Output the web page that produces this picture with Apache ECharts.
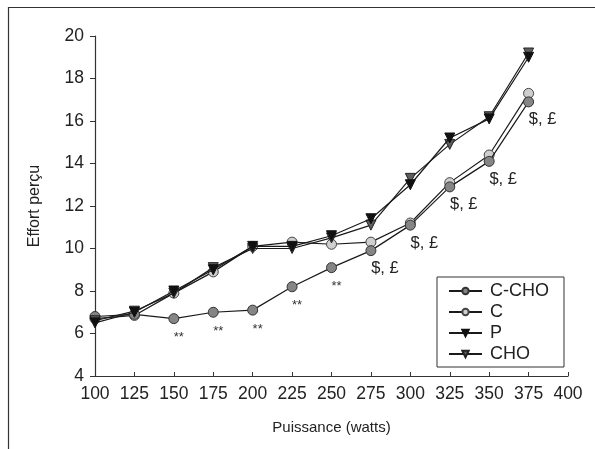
<!DOCTYPE html>
<html>
<head>
<meta charset="utf-8">
<script src="https://cdn.jsdelivr.net/npm/echarts@6/dist/echarts.min.js"></script>
<style>html,body{margin:0;padding:0;background:#fff;}#c{width:595px;height:449px;}</style>
</head>
<body>
<div id="c"></div>
<script>
const puissance = [100,125,150,175,200,225,250,275,300,325,350,375];
const cCho = [6.8,6.9,6.7,7.0,7.1,8.2,9.1,9.9,11.1,12.9,14.1,16.9];
const cOnly = [6.7,6.85,7.9,8.9,10.1,10.3,10.2,10.3,11.2,13.1,14.4,17.3];
const pSeries = [6.5,7.0,8.0,9.0,10.1,10.1,10.6,11.4,13.0,15.2,16.1,19.0];
const choSeries = [6.6,7.05,7.9,9.1,10.0,10.0,10.5,11.1,13.3,14.9,16.2,19.2];
const annotations = ['', '', '**','**','**','**','**','$, £','$, £','$, £','$, £','$, £'];
const xTicks = {min:100, max:400, step:25};
const yTicks = {min:4, max:20, step:2};

const font = 'Liberation Sans, Arial, sans-serif';
function pairs(arr){ return puissance.map((x,i)=>[x, arr[i]]); }

const cChoData = puissance.map((x,i)=>{
  const a = annotations[i];
  const item = {value:[x, cCho[i]]};
  if (a === '**') {
    item.label = {show:true, formatter:a, position:'inside', offset:[5,19], fontSize:13, color:'#333', fontFamily:font};
  } else if (a) {
    item.label = {show:true, formatter:a, position:'inside', offset:[14,18], fontSize:16.5, color:'#222', fontFamily:font};
  }
  return item;
});

const chart = echarts.init(document.getElementById('c'), null, {renderer:'canvas'});
const lineStyle = {color:'#1a1a1a', width:1.2};
chart.setOption({
  animation:false,
  backgroundColor:'#fff',
  graphic:[{type:'rect', shape:{x:8.5,y:7.5,width:700,height:600}, style:{fill:'none', stroke:'#333', lineWidth:1.2}, silent:true}],
  grid:{left:95, right:27, top:36, bottom:73},
  legend:{
    orient:'vertical', left:437, top:277,
    itemWidth:33, itemHeight:8, itemGap:3,
    padding:[5,15,4,11],
    borderColor:'#333', borderWidth:1,
    textStyle:{fontSize:18, color:'#222', fontFamily:font, padding:[0,0,0,3]},
    data:['C-CHO','C','P','CHO']
  },
  xAxis:{
    type:'value', min:xTicks.min, max:xTicks.max, interval:xTicks.step,
    name:'Puissance (watts)', nameLocation:'middle', nameGap:44,
    nameTextStyle:{fontSize:15, color:'#222', fontFamily:font},
    axisLine:{lineStyle:{color:'#333', width:1.2}},
    axisTick:{inside:true, length:4, lineStyle:{color:'#333'}},
    axisLabel:{fontSize:17.5, color:'#222', fontFamily:font, margin:9},
    splitLine:{show:false}
  },
  yAxis:{
    type:'value', min:yTicks.min, max:yTicks.max, interval:yTicks.step,
    name:'Effort perçu', nameLocation:'middle', nameGap:52,
    nameTextStyle:{fontSize:16, color:'#222', fontFamily:font},
    axisLine:{show:true, lineStyle:{color:'#333', width:1.2}},
    axisTick:{show:true, length:5, lineStyle:{color:'#333'}},
    axisLabel:{fontSize:17.5, color:'#222', fontFamily:font, margin:11},
    splitLine:{show:false}
  },
  series:[
    {name:'C-CHO', type:'line', data:cChoData, symbol:'circle', symbolSize:10,
     itemStyle:{color:'#858585', borderColor:'#333', borderWidth:1}, lineStyle:lineStyle, z:4},
    {name:'C', type:'line', data:pairs(cOnly), symbol:'circle', symbolSize:10,
     itemStyle:{color:'#cfcfcf', borderColor:'#444', borderWidth:1}, lineStyle:lineStyle, z:3},
    {name:'P', type:'line', data:pairs(pSeries), symbol:'triangle', symbolRotate:180, symbolSize:10,
     itemStyle:{color:'#111', borderColor:'#111', borderWidth:1}, lineStyle:lineStyle, z:5},
    {name:'CHO', type:'line', data:pairs(choSeries), symbol:'triangle', symbolRotate:180, symbolSize:10,
     itemStyle:{color:'#5e5e5e', borderColor:'#222', borderWidth:1}, lineStyle:lineStyle, z:4}
  ]
});
</script>
</body>
</html>
